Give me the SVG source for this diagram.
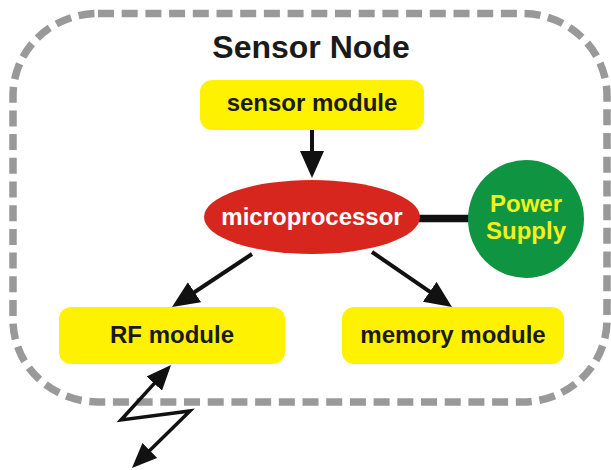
<svg xmlns="http://www.w3.org/2000/svg" width="611" height="470" viewBox="0 0 611 470">
<style>
.lbl{font-family:"Liberation Sans",Arial,sans-serif;font-weight:bold;font-size:24px;text-anchor:middle;fill:#1a1a1a}
.box{fill:#fff200}
.conn{stroke:#111;stroke-width:4;fill:none}
</style>
<defs>
<marker id="ah" viewBox="0 0 27 24" refX="7" refY="12" markerWidth="27" markerHeight="24" markerUnits="userSpaceOnUse" orient="auto">
<path d="M0,0 L27,12 L0,24 z" fill="#111"/>
</marker>
<marker id="ahs" viewBox="0 0 25 21" refX="8" refY="10.5" markerWidth="25" markerHeight="21" markerUnits="userSpaceOnUse" orient="auto-start-reverse">
<path d="M0,0 L25,10.5 L0,21 z" fill="#111"/>
</marker>
</defs>
<rect id="boundary" x="13" y="13.5" width="594" height="388.5" rx="85" ry="82" fill="none" stroke="#999" stroke-width="7.5" stroke-dasharray="16 7.7"/>
<text id="title" x="311" y="58" class="lbl" style="font-size:32px">Sensor Node</text>
<g id="connectors">
<line class="conn" x1="312" y1="130" x2="312" y2="158" marker-end="url(#ah)"/>
<line class="conn" x1="252" y1="254" x2="188.7" y2="296" marker-end="url(#ah)"/>
<line class="conn" x1="372" y1="252" x2="435.5" y2="295.7" marker-end="url(#ah)"/>
<line x1="415" y1="218.5" x2="472" y2="218.5" stroke="#111" stroke-width="7.5"/>
<polyline class="conn" style="stroke-width:3.5" points="159.6,377.6 121,420 190,411 144.1,456.1" marker-start="url(#ahs)" marker-end="url(#ahs)"/>
</g>
<g id="sensor-module">
<rect class="box" x="200" y="80" width="224" height="50" rx="12"/>
<text class="lbl" x="312" y="111">sensor module</text>
</g>
<g id="microprocessor">
<ellipse cx="312" cy="217" rx="108" ry="37" fill="#d7261e"/>
<text class="lbl" x="312" y="225" style="fill:#fff">microprocessor</text>
</g>
<g id="power-supply">
<ellipse cx="526" cy="219" rx="58" ry="59" fill="#0f9442"/>
<text class="lbl" x="526" y="212" style="fill:#f5f01a">Power</text>
<text class="lbl" x="526" y="239" style="fill:#f5f01a">Supply</text>
</g>
<g id="rf-module">
<rect class="box" x="59" y="307" width="226" height="57" rx="12"/>
<text class="lbl" x="172" y="343">RF module</text>
</g>
<g id="memory-module">
<rect class="box" x="342" y="307" width="222" height="57" rx="12"/>
<text class="lbl" x="453" y="343">memory module</text>
</g>
</svg>
